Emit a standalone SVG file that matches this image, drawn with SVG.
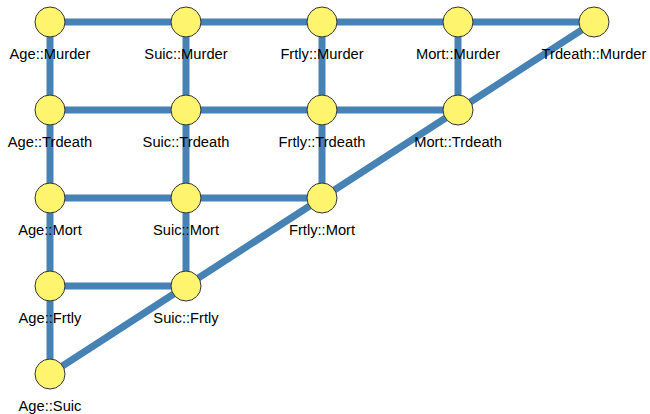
<svg xmlns="http://www.w3.org/2000/svg" width="650" height="414" viewBox="0 0 650 414">
<style>
.e{stroke:#4682b4;stroke-width:7;fill:none}
.n circle{fill:#fff46e;stroke:#333;stroke-width:1}
.n text{font-family:"Liberation Sans",Arial,sans-serif;font-size:14.7px;fill:#000;text-anchor:middle}
</style>
<rect width="650" height="414" fill="#fff"/>
<g id="edges">
<line class="e" x1="50" y1="22" x2="594" y2="22"/>
<line class="e" x1="50" y1="110" x2="458" y2="110"/>
<line class="e" x1="50" y1="198" x2="322" y2="198"/>
<line class="e" x1="50" y1="286" x2="186" y2="286"/>
<line class="e" x1="50" y1="22" x2="50" y2="374"/>
<line class="e" x1="186" y1="22" x2="186" y2="286"/>
<line class="e" x1="322" y1="22" x2="322" y2="198"/>
<line class="e" x1="458" y1="22" x2="458" y2="110"/>
<line class="e" x1="50" y1="374" x2="186" y2="286"/>
<line class="e" x1="186" y1="286" x2="322" y2="198"/>
<line class="e" x1="322" y1="198" x2="458" y2="110"/>
<line class="e" x1="458" y1="110" x2="594" y2="22"/>
</g>
<g id="age-murder" class="n"><circle cx="50" cy="22" r="15"/><text x="50" y="59">Age::Murder</text></g>
<g id="suic-murder" class="n"><circle cx="186" cy="22" r="15"/><text x="186" y="59">Suic::Murder</text></g>
<g id="frtly-murder" class="n"><circle cx="322" cy="22" r="15"/><text x="322" y="59">Frtly::Murder</text></g>
<g id="mort-murder" class="n"><circle cx="458" cy="22" r="15"/><text x="458" y="59">Mort::Murder</text></g>
<g id="trdeath-murder" class="n"><circle cx="594" cy="22" r="15"/><text x="594" y="59">Trdeath::Murder</text></g>
<g id="age-trdeath" class="n"><circle cx="50" cy="110" r="15"/><text x="50" y="147">Age::Trdeath</text></g>
<g id="suic-trdeath" class="n"><circle cx="186" cy="110" r="15"/><text x="186" y="147">Suic::Trdeath</text></g>
<g id="frtly-trdeath" class="n"><circle cx="322" cy="110" r="15"/><text x="322" y="147">Frtly::Trdeath</text></g>
<g id="mort-trdeath" class="n"><circle cx="458" cy="110" r="15"/><text x="458" y="147">Mort::Trdeath</text></g>
<g id="age-mort" class="n"><circle cx="50" cy="198" r="15"/><text x="50" y="235">Age::Mort</text></g>
<g id="suic-mort" class="n"><circle cx="186" cy="198" r="15"/><text x="186" y="235">Suic::Mort</text></g>
<g id="frtly-mort" class="n"><circle cx="322" cy="198" r="15"/><text x="322" y="235">Frtly::Mort</text></g>
<g id="age-frtly" class="n"><circle cx="50" cy="286" r="15"/><text x="50" y="323">Age::Frtly</text></g>
<g id="suic-frtly" class="n"><circle cx="186" cy="286" r="15"/><text x="186" y="323">Suic::Frtly</text></g>
<g id="age-suic" class="n"><circle cx="50" cy="374" r="15"/><text x="50" y="411">Age::Suic</text></g>
</svg>
